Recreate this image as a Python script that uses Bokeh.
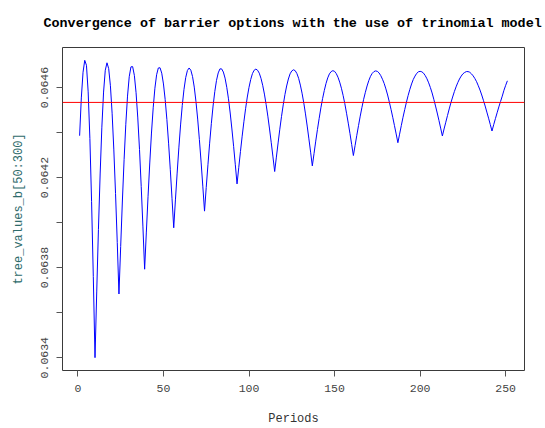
from bokeh.plotting import figure
from bokeh.models import Range1d, FixedTicker, Span, Title
from bokeh.embed import file_html
from bokeh.resources import INLINE

# Periods 1..251 (tree_values_b[50:300])
periods = list(range(1, 252))
tree_values = [
    0.064386, 0.064554, 0.064668, 0.064721, 0.064699, 0.064581, 0.064374, 0.064093, 0.063760, 0.063400,
    0.063692, 0.063969, 0.064216, 0.064424, 0.064580, 0.064677, 0.064710, 0.064684, 0.064608, 0.064486,
    0.064323, 0.064129, 0.063912, 0.063683, 0.063894, 0.064096, 0.064280, 0.064437, 0.064562, 0.064648,
    0.064692, 0.064693, 0.064654, 0.064577, 0.064465, 0.064325, 0.064161, 0.063981, 0.063793, 0.063958,
    0.064117, 0.064265, 0.064398, 0.064510, 0.064597, 0.064657, 0.064687, 0.064688, 0.064664, 0.064616,
    0.064547, 0.064458, 0.064353, 0.064235, 0.064108, 0.063977, 0.064101, 0.064220, 0.064332, 0.064434,
    0.064521, 0.064592, 0.064644, 0.064676, 0.064687, 0.064677, 0.064649, 0.064602, 0.064538, 0.064460,
    0.064369, 0.064269, 0.064162, 0.064051, 0.064156, 0.064257, 0.064353, 0.064441, 0.064518, 0.064582,
    0.064632, 0.064665, 0.064683, 0.064683, 0.064669, 0.064642, 0.064601, 0.064550, 0.064487, 0.064416,
    0.064339, 0.064257, 0.064172, 0.064244, 0.064316, 0.064384, 0.064448, 0.064506, 0.064558, 0.064601,
    0.064636, 0.064662, 0.064677, 0.064682, 0.064677, 0.064664, 0.064641, 0.064610, 0.064571, 0.064525,
    0.064473, 0.064416, 0.064355, 0.064292, 0.064227, 0.064291, 0.064354, 0.064415, 0.064472, 0.064523,
    0.064569, 0.064607, 0.064638, 0.064661, 0.064674, 0.064679, 0.064675, 0.064662, 0.064641, 0.064611,
    0.064575, 0.064532, 0.064483, 0.064429, 0.064372, 0.064313, 0.064252, 0.064307, 0.064362, 0.064414,
    0.064463, 0.064510, 0.064551, 0.064587, 0.064618, 0.064643, 0.064661, 0.064671, 0.064675, 0.064672,
    0.064662, 0.064646, 0.064624, 0.064597, 0.064565, 0.064528, 0.064486, 0.064442, 0.064396, 0.064347,
    0.064298, 0.064343, 0.064388, 0.064431, 0.064473, 0.064512, 0.064548, 0.064579, 0.064607, 0.064631,
    0.064650, 0.064663, 0.064671, 0.064674, 0.064672, 0.064665, 0.064653, 0.064637, 0.064618, 0.064594,
    0.064567, 0.064536, 0.064503, 0.064468, 0.064431, 0.064394, 0.064355, 0.064393, 0.064431, 0.064468,
    0.064502, 0.064535, 0.064565, 0.064592, 0.064616, 0.064636, 0.064651, 0.064663, 0.064670, 0.064672,
    0.064670, 0.064664, 0.064653, 0.064639, 0.064621, 0.064600, 0.064576, 0.064548, 0.064518, 0.064487,
    0.064454, 0.064420, 0.064385, 0.064416, 0.064446, 0.064476, 0.064505, 0.064533, 0.064558, 0.064582,
    0.064603, 0.064622, 0.064638, 0.064651, 0.064661, 0.064667, 0.064671, 0.064671, 0.064668, 0.064661,
    0.064652, 0.064640, 0.064626, 0.064608, 0.064589, 0.064567, 0.064543, 0.064518, 0.064491, 0.064464,
    0.064436, 0.064407, 0.064435, 0.064462, 0.064488, 0.064514, 0.064538, 0.064562, 0.064588, 0.064610,
    0.064630,
]
benchmark_value = 0.064534

x_ticks = [0, 50, 100, 150, 200, 250]
y_ticks = [0.0634, 0.0636, 0.0638, 0.0640, 0.0642, 0.0644, 0.0646]
y_tick_labels = ["0.0634", "", "0.0638", "", "0.0642", "", "0.0646"]

title_text = "Convergence of barrier options with the use of trinomial model"
x_label = "Periods"
y_label = "tree_values_b[50:300]"

FONT = "Liberation Mono"

p = figure(width=545, height=428, output_backend="svg", toolbar_location=None,
           x_range=Range1d(-9, 261), y_range=Range1d(0.063343, 0.064778),
           min_border_left=62, min_border_right=21, min_border_top=47, min_border_bottom=56)
p.title = Title(text=title_text, align="left", offset=-19, vertical_align="top", text_font=FONT,
                text_font_size="13.4px", text_font_style="bold", text_color="#000000",
                standoff=30)

p.line(periods, tree_values, line_color="#0000FF", line_width=1)
p.add_layout(Span(location=benchmark_value, dimension="width", line_color="#FF0000", line_width=1))

p.xgrid.visible = False
p.ygrid.visible = False
p.background_fill_color = "white"
p.border_fill_color = "white"
p.outline_line_color = "#3a3a3a"
p.outline_line_width = 1

xa = p.xaxis[0]
xa.ticker = FixedTicker(ticks=x_ticks)
xa.axis_label = x_label
ya = p.yaxis[0]
ya.ticker = FixedTicker(ticks=y_ticks)
ya.major_label_overrides = {t: l for t, l in zip(y_ticks, y_tick_labels)}
ya.axis_label = y_label
ya.major_label_orientation = "vertical"

for ax in (xa, ya):
    ax.axis_line_color = None
    ax.minor_tick_line_color = None
    ax.major_tick_in = 0
    ax.major_tick_out = 6
    ax.major_tick_line_color = "#555555"
    ax.major_label_text_font = FONT
    ax.major_label_text_font_size = "11.5px"
    ax.major_label_text_color = "#444444"
    ax.axis_label_text_font = FONT
    ax.axis_label_text_font_size = "12px"
    ax.axis_label_text_font_style = "normal"
    ax.major_label_standoff = 8

xa.axis_label_text_color = "#333333"
xa.axis_label_standoff = 17
ya.axis_label_text_color = "#2e6b6b"
ya.axis_label_standoff = 13

open("out.html", "w").write(file_html(p, INLINE))
